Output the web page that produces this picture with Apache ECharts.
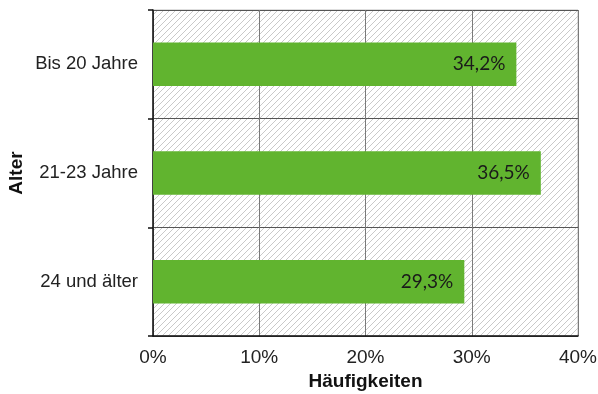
<!DOCTYPE html>
<html>
<head>
<meta charset="utf-8">
<script src="https://cdn.jsdelivr.net/npm/echarts@6/dist/echarts.min.js"></script>
<style>html,body{margin:0;padding:0;background:#fff}#c{width:598px;height:394px}</style>
</head>
<body>
<div id="c"></div>
<script>
const categories = ['Bis 20 Jahre', '21-23 Jahre', '24 und älter'];
const values = [34.2, 36.5, 29.3];
const xTicks = [0, 10, 20, 30, 40];

// hatch pattern
const pc = document.createElement('canvas');
pc.width = 6; pc.height = 6;
const g = pc.getContext('2d');
g.fillStyle = '#ffffff'; g.fillRect(0, 0, 6, 6);
g.strokeStyle = '#c9c9c9'; g.lineWidth = 1;
g.beginPath();
g.moveTo(-1, 7); g.lineTo(7, -1);
g.moveTo(-1, 1); g.lineTo(1, -1);
g.moveTo(5, 7); g.lineTo(7, 5);
g.stroke();

const chart = echarts.init(document.getElementById('c'));
chart.setOption({
  animation: false,
  grid: {
    left: 153, right: 20, top: 10, bottom: 58,
    outerBoundsMode: 'none',
    containLabel: false,
    show: true,
    backgroundColor: { image: pc, repeat: 'repeat' },
    borderColor: '#bdbdbd', borderWidth: 1
  },
  xAxis: {
    type: 'value', min: xTicks[0], max: xTicks[xTicks.length - 1], interval: 10,
    name: 'Häufigkeiten', nameLocation: 'middle', nameGap: 35,
    nameTextStyle: { fontFamily: 'Liberation Sans', fontWeight: 'bold', fontSize: 19, color: '#111' },
    axisLine: { show: true, lineStyle: { color: '#111', width: 1.5 } },
    axisTick: { show: false },
    axisLabel: { formatter: '{value}%', fontFamily: 'Liberation Sans', fontSize: 19, color: '#222', margin: 12 },
    splitLine: { show: true, lineStyle: { color: '#7a7a7a', width: 1 } }
  },
  yAxis: {
    type: 'category', data: categories, inverse: true,
    name: 'Alter', nameLocation: 'middle', nameGap: 127, nameRotate: 90,
    nameMoveOverlap: false,
    nameTextStyle: { fontFamily: 'Liberation Sans', fontWeight: 'bold', fontSize: 19, color: '#111' },
    axisLine: { show: true, lineStyle: { color: '#111', width: 1.5 } },
    axisTick: { show: true, length: 5, lineStyle: { color: '#111', width: 1.5 } },
    axisLabel: { fontFamily: 'Liberation Sans', fontSize: 18.5, color: '#222', margin: 15 },
    splitLine: { show: true, lineStyle: { color: '#555', width: 1 } }
  },
  series: [{
    type: 'bar', data: values, barWidth: '40%',
    itemStyle: { color: '#61b42f' },
    label: {
      show: true, position: 'insideRight', distance: 11,
      formatter: p => p.value.toFixed(1).replace('.', ',') + '%',
      fontFamily: 'Lato', fontSize: 19, color: '#1a1a1a'
    }
  }]
});
</script>
</body>
</html>
